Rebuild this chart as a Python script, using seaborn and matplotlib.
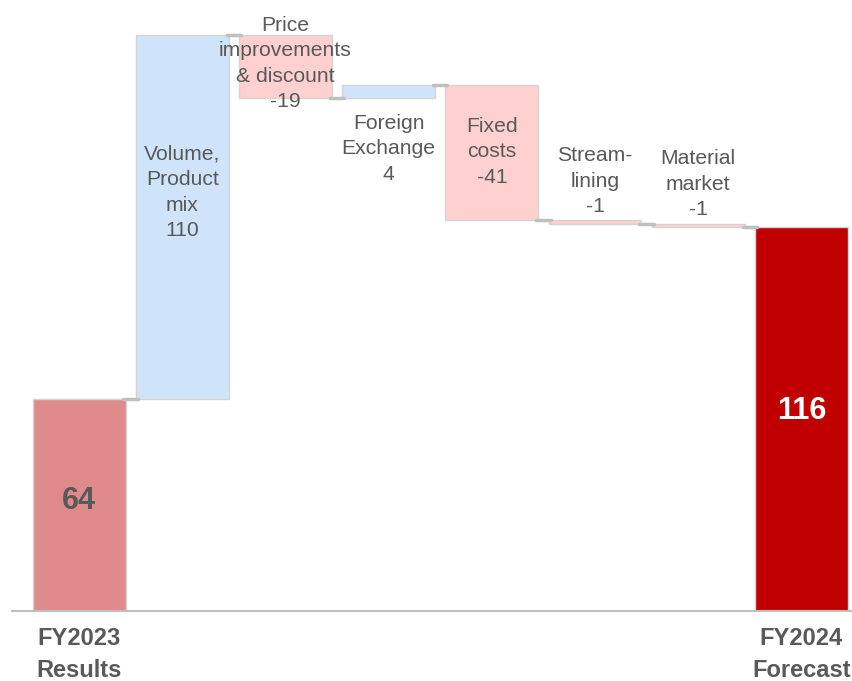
import numpy as np
import pandas as pd
import matplotlib.pyplot as plt
import seaborn as sns

# Daten des Wasserfalls
steps = ['FY2023', 'Volume', 'Price', 'FX', 'Fixed', 'Stream', 'Material', 'FY2024']
bar_texts = ['', 'Volume,\nProduct\nmix', 'Price\nimprovements\n& discount', 'Foreign\nExchange',
             'Fixed\ncosts', 'Stream-\nlining', 'Material\nmarket', '']
tick_labels = ['FY2023\nResults', '', '', '', '', '', '', 'FY2024\nForecast']
start_value = 64
changes = [110, -19, 4, -41, -1, -1]
end_value = 116

# Farben
col_start = '#e08b8b'
col_up = '#cfe4fb'
col_down = '#ffd0d0'
col_end = '#c00000'
col_text = '#595959'
col_grey = '#bfbfbf'

# Wasserfall-Berechnung
levels = np.concatenate([[start_value], start_value + np.cumsum(changes)])
bottoms = [0] + [min(levels[i], levels[i + 1]) for i in range(len(changes))] + [0]
heights = [start_value] + [abs(c) for c in changes] + [end_value]
colors = [col_start] + [col_up if c > 0 else col_down for c in changes] + [col_end]
df = pd.DataFrame({'step': steps, 'height': heights, 'bottom': bottoms})

sns.set_style('white')
plt.rcParams['font.family'] = ['Liberation Sans', 'DejaVu Sans']

fig = plt.figure(figsize=(8.53, 6.81), dpi=100)
ax = fig.add_axes([12 / 853, 70 / 681, 1 - 12 / 853, 1 - 70 / 681])

sns.barplot(data=df, x='step', y='height', order=steps, bottom=df['bottom'].values,
            color=col_up, saturation=1, width=0.9, errorbar=None,
            edgecolor='#d4d4d4', linewidth=1, ax=ax)
for patch, c in zip(ax.patches, colors):
    patch.set_facecolor(c)

# Verbindungslinien zwischen den Balken
for i, lvl in enumerate(levels):
    ax.plot([i + 0.43, i + 0.57], [lvl, lvl], color=col_grey, lw=2.5, solid_capstyle='round', zorder=1)

# Beschriftungen der Veränderungen
label_y = [None, 126.4, 165.4, 139.7, 138.7, 129.9, 129.0, None]
for i in range(1, len(steps) - 1):
    ch = changes[i - 1]
    ax.text(i, label_y[i], f'{bar_texts[i]}\n{ch}', ha='center', va='center',
            fontsize=15.2, color=col_text, linespacing=1.43)

# Start- und Endwert
ax.text(0, start_value * 0.52, f'{start_value}', ha='center', va='center', fontsize=22,
        fontweight='bold', color=col_text)
ax.text(len(steps) - 1, end_value * 0.52, f'{end_value}', ha='center', va='center', fontsize=22,
        fontweight='bold', color='white')

ax.set_xlim(-0.65, 7.5)
ax.set_ylim(0, 184.6)
ax.set_xticks(range(len(steps)))
ax.set_xticklabels(tick_labels, fontsize=17, fontweight='bold', color=col_text)
for lab in ax.get_xticklabels():
    lab.set_linespacing(1.5)
ax.tick_params(axis='x', length=0, pad=11.5)
ax.set_yticks([])
ax.set_xlabel('')
ax.set_ylabel('')
for s in ['top', 'left', 'right']:
    ax.spines[s].set_visible(False)
ax.spines['bottom'].set_color(col_grey)
ax.spines['bottom'].set_linewidth(1.5)

fig.savefig('out.png', dpi=100)
